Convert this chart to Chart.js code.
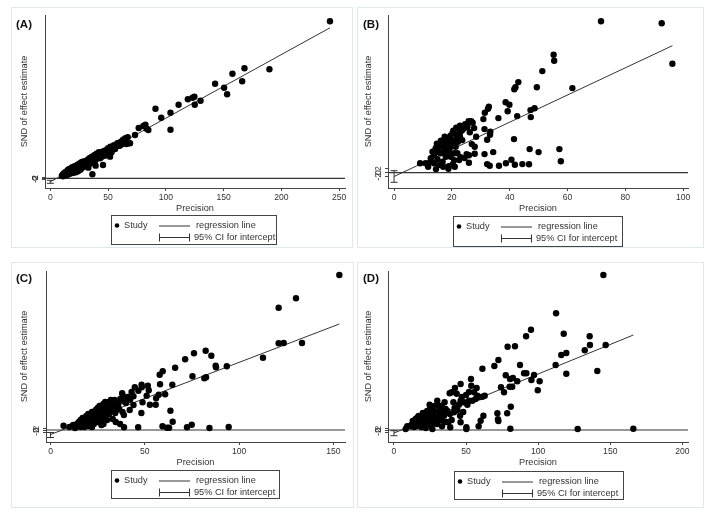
<!DOCTYPE html>
<html>
<head>
<meta charset="utf-8">
<script src="https://cdn.jsdelivr.net/npm/chart.js@4.4.1/dist/chart.umd.min.js"></script>
<style>
  html, body { margin: 0; padding: 0; background: #fff; }
  #wrap { position: relative; width: 708px; height: 519px; overflow: hidden; }
  .panel { position: absolute; }
</style>
</head>
<body>
<div id="wrap">
  <div class="panel" style="left:0;top:0"><canvas id="cA" width="354" height="259"></canvas></div>
  <div class="panel" style="left:354px;top:0"><canvas id="cB" width="354" height="259"></canvas></div>
  <div class="panel" style="left:0;top:259px"><canvas id="cC" width="354" height="260"></canvas></div>
  <div class="panel" style="left:354px;top:259px"><canvas id="cD" width="354" height="260"></canvas></div>
</div>
<script>
// --- data (precision, SND of effect estimate) ---
const studiesA = [
  [242,314],[168,220],[157.6,209],[189.6,218],[166,194],[142.6,189],[150.4,181],[153,168],
  [130,155],[124.7,163],[123,161],[119,158],[125,147],[111,147],[104,131],[104,97],[91,139],
  [96,121],[82.3,107],[80.5,104.7],[76.5,100.7],[83.4,99.3],[84.8,96.7],[73.3,86.7],[65,75],
  [69,70],[66,68.7],[36.4,8],[39.2,25.3],[45.6,26.7],[32.9,21.3],[43,40],[51.7,43.3],[56,58.7],
  [10,5],[11,8],[11,4],[12,10],[12,6],[13,8],[13,12],[14,6],[14,13],[15,10],[15,16],[16,8],
  [16,14],[16,18],[17,12],[17,17],[18,10],[18,15],[18,20],[19,13],[19,18],[19,22],[20,11],
  [20,16],[20,21],[21,14],[21,19],[21,24],[22,12],[22,18],[22,23],[23,16],[23,21],[23,26],
  [24,14],[24,20],[24,27],[25,18],[25,24],[25,29],[26,17],[26,23],[26,30],[27,20],[27,26],
  [27,32],[28,22],[28,29],[28,33],[29,25],[29,31],[30,28],[30,34],[31,24],[31,32],[32,30],
  [32,36],[33,27],[33,38],[34,33],[34,40],[35,30],[35,41],[36,37],[36,43],[37,34],[38,40],
  [38,46],[39,36],[40,44],[40,49],[41,40],[42,47],[42,52],[43,44],[44,50],[45,53],[46,48],
  [47,55],[48,52],[49,57],[50,60],[51,55],[52,63],[54,58],[55,66],[56,62],[58,70],[60,65],
  [61,73],[63,77],[65,80],[67,82],[57,64],[59,67],[62,68],[64,72],[53,52],[47,45],[44,42]
];
const studiesB = [
  [71.6,75.7],[92.6,74.7],[96.3,54.5],[55.2,59],[55.4,56],[51.3,50.8],[43,45.3],[42,42.7],
  [41.6,41.7],[49.4,42.7],[61.7,42.3],[38.6,35.2],[39.9,34],[32.8,33],[32.5,32],[31.4,30],
  [39.3,30.7],[36.1,27.3],[42.6,28.3],[47.2,31.3],[48.6,32.2],[47.3,27.8],[30.9,26.8],
  [31.3,21.8],[33.3,20.5],[33.2,19],[32.2,16.5],[41.5,16.8],[46.9,11.8],[50,10.3],[57.2,11.8],
  [57.7,5.7],[34.3,10.3],[31.3,9.3],[32.2,4.3],[33.1,3.5],[36.3,3.5],[38.7,4.7],[40.6,6.5],
  [41.8,4],[44.4,4.3],[46.7,4.2],[27.9,9.5],[25.9,8.7],[25.9,5],[24.4,7.3],[26.9,14.3],
  [27.7,22.3],[28.4,18],[26.2,20.2],[25.8,25.7],[26.7,25.8],[27.2,25],[25.4,23],[24.2,22.2],
  [23,20.5],[22.8,18],[23.6,16.3],[21.3,13],[20.8,9.7],[20.8,6.3],[21,3],[18.8,2],[18.9,3.2],
  [20.3,4.3],[17.9,8],[16.8,5.5],[14.5,1.8],[11.8,3],[10.9,4.7],[9,4.7],[12.7,7.2],[13.8,8.8],
  [15,10.5],[15.8,13],[17.3,14.7],[19,17.2],[18.8,14.7],[20.2,16.3],[21.9,18.8],[22.1,15.5],
  [16.1,9.7],[17.3,10.5],[18.5,12.2],[19.6,13],[20.8,14.7],[21.6,17.2],[22.5,19.7],[23.6,21.3],
  [24.6,24.3],[20.2,19.7],[19,10.5],[15,6.7],[13.8,4.7],[13.3,10.5],[16.4,14.7],[18,16.3],
  [19.6,8],[21.9,9.7],[22.5,6.3],[23,7.7],[17,3],[15.6,3.8],[12.7,5.5],[25.1,9.3],[27.9,13],
  [17.3,12.2],[14.4,12.2],[19.5,18.5],[20.5,21],[21.5,22.5],[22.8,23.5],[17.5,18],[16.2,16],
  [14.8,14.5]
];
const studiesC = [
  [153.2,155],[130.2,131.7],[121,122.3],[121,86.7],[123.7,87],[133.4,87],[112.7,72.3],
  [93.5,63.7],[87.6,64.3],[87.8,62.7],[82.5,52.7],[81.6,51.7],[75.3,53.7],[85.3,74.3],
  [82.3,79.3],[76.1,76.7],[71.4,70.7],[66.1,62.3],[59.5,58.7],[57.9,55.3],[58.1,45.7],
  [64.6,45.3],[60.8,35.7],[57.4,35.3],[56,31.7],[55.8,25.3],[63.6,19.3],[64.8,8.3],[51.6,44.3],
  [52.1,39.7],[51,34.3],[48.3,45.3],[48.4,42.7],[44.7,42.7],[46.6,39.3],[42.2,30.3],[48.8,27.7],
  [48.2,17],[52.7,25.3],[44,33.7],[38.3,34.3],[38,36.7],[38.9,28.7],[38.2,18],[38.9,15],[39,2.7],
  [46.5,2.7],[59.4,3.7],[61.8,2.3],[62.9,2.3],[72.4,2.7],[74.9,5.3],[84.3,2],[94.5,3],[35.5,25.3],
  [36.4,21],[34.3,17],[33.4,24.3],[30,27.7],[31.6,19.7],[33,11],[34.6,8],[36.9,6],[24.6,14.3],
  [26.3,7.7],[28.1,6],[21,4.3],[6.9,4.3],
  [10,3],[12,5],[13,2],[14,6],[15,4],[15,8],[16,3],[16,10],[17,6],[17,12],[18,9],[18,3],[19,14],
  [19,7],[20,11],[20,4],[20,16],[21,13],[21,8],[22,18],[22,10],[22,3],[23,15],[23,6],[24,20],
  [24,12],[25,17],[25,8],[25,22],[26,14],[26,24],[27,19],[27,5],[28,21],[28,26],[28,12],[29,16],
  [29,28],[30,22],[30,10],[31,28],[31,16],[32,22],[32,30],[33,27],[34,30],[35,20],[36,26],[37,31],
  [40,27],[41,33],[42,20],[43,38],[44,25]
];
const studiesD = [
  [145.2,155],[112.4,116.7],[117.7,96.3],[95,100.3],[91.6,93.7],[135.7,93.7],[78.8,83.3],
  [83.9,83.7],[135.9,85],[146.8,85],[132.3,79.7],[119.5,77],[116,75],[72.4,70],[69.6,64],
  [61.3,61.3],[87.4,65],[112.1,65],[141,59],[119.5,56.3],[90.2,56.7],[91.8,56.7],[97.1,55],
  [77.5,54.7],[80.5,51],[82.5,52],[85.5,48.7],[95.3,50],[101,48.7],[80.2,43.3],[82,43.3],
  [74.2,42.7],[76.3,37.7],[99.7,39.7],[81,23.3],[78.5,16.7],[72.1,10.7],[72.4,9],[71.7,16.7],
  [62,14.3],[60.1,9.3],[58.7,3.7],[80.7,1.3],[127.4,1],[166,1.3],[53.4,51],[53.6,44.3],[57.3,42],
  [57.8,34.3],[59,32.7],[61.3,33.3],[62.9,34.3],[55.5,37.7],[56.6,31],[52,29.3],[50.9,25.3],
  [54.3,29.3],[48.6,27.7],[46.2,46],[42.3,42],[38.6,36.7],[40,37.7],[43.5,36.3],[41.2,27.7],
  [45,25.3],[46.2,29.3],[41.6,17.7],[45.8,14.3],[46.2,7.7],[37.7,7.7],[39,2.7],[33.3,3.7],
  [50.2,2.7],[50.2,1],[38.8,16],[34.7,14.3],[31.2,11],[30,29.3],[30.8,24.3],[33.1,24.3],
  [35.1,27.7],[35.8,21],[27.7,17.7],[26.6,22.7],[24.7,25.3],[25.4,11],[26.6,1],[20.8,14.3],
  [18.5,7.7],[15,11],[13.9,6],[11.6,3.7],[9.2,3.7],[8.1,1],
  [12,5],[13,9],[14,3],[15,7],[16,12],[16,4],[17,9],[17,14],[18,6],[18,11],[19,3],[19,13],[20,8],
  [20,17],[21,5],[21,11],[22,15],[22,2],[23,9],[23,19],[24,13],[24,6],[25,16],[25,21],[26,10],
  [26,4],[27,14],[27,20],[28,8],[28,24],[29,12],[29,18],[30,6],[31,15],[32,20],[33,10],[34,17],
  [36,8],[37,19],[40,10],[42,22],[44,20],[48,18],[47,33],[50,35],[52,38]
];

// regression line end points (precision, SND) and 95% CI for intercept
const regA = [[0,-7],[242,301]];
const regB = [[0,-1.9],[96.3,63.5]];
const regC = [[0,-4.5],[153.2,106]];
const regD = [[0,-3],[166,95]];
const ciA = [-10,-4];
const ciB = [-4.8,1.0];
const ciC = [-7.5,-2.5];
const ciD = [-5.7,-0.7];

// tick labels
const yTicks = [-2,0,2];
const xTicksA = [0,50,100,150,200,250];
const xTicksB = [0,20,40,60,80,100];
const xTicksC = [0,50,100,150];
const xTicksD = [0,50,100,150,200];

const panelTags = ['(A)','(B)','(C)','(D)'];
const legendLabels = ['Study','regression line','95% CI for intercept'];
const xTitle = 'Precision';
const yTitle = 'SND of effect estimate';

const FONT = '"Liberation Sans", Arial, Helvetica, sans-serif';
const INK = '#333';

function decor(cfg) {
  return {
    id: 'decor',
    beforeDraw(chart) {
      const c = chart.ctx, f = cfg.frame;
      c.save();
      c.strokeStyle = '#e1e8ec';
      c.lineWidth = 1;
      c.strokeRect(f[0] + 0.5, f[1] + 0.5, f[2], f[3]);
      c.restore();
    },
    afterDraw(chart) {
      const c = chart.ctx, lg = cfg.legend;
      c.save();
      // panel tag
      c.fillStyle = '#111';
      c.font = 'bold 11.5px ' + FONT;
      c.textBaseline = 'middle';
      c.textAlign = 'left';
      c.fillText(cfg.tag, cfg.tagPos[0], cfg.tagPos[1]);
      // legend box
      c.strokeStyle = '#444';
      c.lineWidth = 1;
      c.strokeRect(lg[0] + 0.5, lg[1] + 0.5, lg[2], lg[3]);
      const r1 = lg[1] + 10.5, r2 = lg[1] + 22;
      c.fillStyle = '#000';
      c.beginPath(); c.arc(lg[0] + 6, r1, 2.3, 0, Math.PI * 2); c.fill();
      c.fillStyle = INK;
      c.font = '9.2px ' + FONT;
      c.fillText(legendLabels[0], lg[0] + 13, r1);
      c.strokeStyle = INK;
      c.beginPath(); c.moveTo(lg[0] + 48, r1 + 0.5); c.lineTo(lg[0] + 79, r1 + 0.5); c.stroke();
      c.fillText(legendLabels[1], lg[0] + 85, r1);
      c.beginPath();
      c.moveTo(lg[0] + 48, r2 + 0.5); c.lineTo(lg[0] + 79, r2 + 0.5);
      c.moveTo(lg[0] + 48.5, r2 - 3.5); c.lineTo(lg[0] + 48.5, r2 + 4.5);
      c.moveTo(lg[0] + 78.5, r2 - 3.5); c.lineTo(lg[0] + 78.5, r2 + 4.5);
      c.stroke();
      c.fillText(legendLabels[2], lg[0] + 83, r2);
      c.restore();
    }
  };
}

function makePanel(id, cfg) {
  const pts = cfg.studies.map(p => ({ x: p[0], y: p[1] }));
  const XH = 26;
  return new Chart(document.getElementById(id), {
    type: 'scatter',
    data: {
      datasets: [
        { data: pts, pointRadius: 3.2, pointBackgroundColor: '#000', pointBorderWidth: 0, backgroundColor: '#000' },
        { data: cfg.reg.map(p => ({ x: p[0], y: p[1] })), showLine: true, borderColor: INK, borderWidth: 1, pointRadius: 0 },
        { data: [{ x: cfg.xr[0], y: 0 }, { x: cfg.xr[1], y: 0 }], showLine: true, borderColor: INK, borderWidth: 1.2, pointRadius: 0 },
        { data: [{ x: 0, y: cfg.ci[0] }, { x: 0, y: cfg.ci[1] }], showLine: true, borderColor: INK, borderWidth: 1,
          pointStyle: 'line', pointRadius: 3.5, pointBorderColor: INK, pointBorderWidth: 1 }
      ]
    },
    options: {
      responsive: false,
      animation: false,
      events: [],
      layout: { padding: { left: cfg.padL, top: cfg.top, right: cfg.w - cfg.right, bottom: cfg.h - cfg.bottom - XH } },
      plugins: { legend: { display: false }, tooltip: { enabled: false } },
      scales: {
        x: {
          type: 'linear', min: cfg.xr[0], max: cfg.xr[1],
          afterBuildTicks: s => { s.ticks = cfg.xt.map(v => ({ value: v })); },
          afterFit: s => { s.height = XH; },
          grid: { drawOnChartArea: false, tickLength: 3, color: '#444' },
          border: { color: '#444', width: 1 },
          ticks: { font: { family: FONT, size: 8.6 }, color: INK, padding: 1.5, maxRotation: 0, autoSkip: false },
          title: { display: true, text: xTitle, font: { family: FONT, size: 9.2 }, color: INK, padding: 0 }
        },
        y: {
          type: 'linear', min: cfg.yr[0], max: cfg.yr[1],
          afterBuildTicks: s => { s.ticks = yTicks.map(v => ({ value: v })); },
          afterFit: s => { s.width = cfg.left - cfg.padL; },
          grid: { drawOnChartArea: false, tickLength: 3, color: '#444' },
          border: { color: '#444', width: 1 },
          ticks: { font: { family: FONT, size: 8.6 }, color: INK, padding: 3, minRotation: 90, maxRotation: 90,
                   crossAlign: 'center', autoSkip: false },
          title: { display: true, text: yTitle, font: { family: FONT, size: 9.2 }, color: INK, padding: 0 }
        }
      }
    },
    plugins: [decor(cfg)]
  });
}

makePanel('cA', { studies: studiesA, reg: regA, ci: ciA, xt: xTicksA, w: 354, h: 259,
  padL: 19, left: 45, top: 15, right: 345, bottom: 188, xr: [-4.6, 255], yr: [-19.4, 326.6],
  frame: [11, 7, 341, 240], tag: panelTags[0], tagPos: [16, 25], legend: [111, 215, 165, 29] });
makePanel('cB', { studies: studiesB, reg: regB, ci: ciB, xt: xTicksB, w: 354, h: 259,
  padL: 9, left: 34, top: 15, right: 334, bottom: 188, xr: [-2.1, 101.7], yr: [-7.65, 78.85],
  frame: [3, 7, 346, 240], tag: panelTags[1], tagPos: [9, 25], legend: [99, 216, 169, 30] });
makePanel('cC', { studies: studiesC, reg: regC, ci: ciC, xt: xTicksC, w: 354, h: 260,
  padL: 19, left: 46, top: 12, right: 345, bottom: 183, xr: [-2.4, 156.2], yr: [-12, 159],
  frame: [11, 3, 342, 245], tag: panelTags[2], tagPos: [16, 20], legend: [111, 211, 168, 28] });
makePanel('cD', { studies: studiesD, reg: regD, ci: ciD, xt: xTicksD, w: 354, h: 260,
  padL: 9, left: 34, top: 12, right: 334, bottom: 183, xr: [-4.16, 203.9], yr: [-12, 159],
  frame: [3, 3, 346, 245], tag: panelTags[3], tagPos: [9, 20], legend: [100, 212, 169, 28] });
</script>
</body>
</html>
